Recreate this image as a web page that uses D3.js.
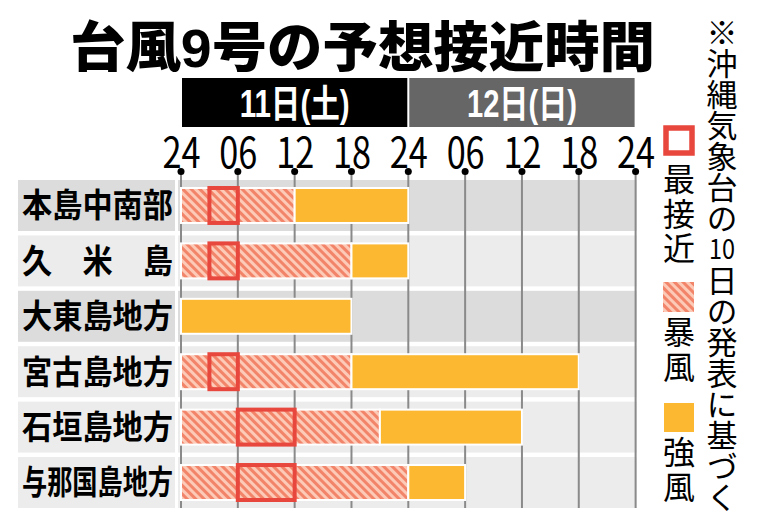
<!DOCTYPE html>
<html lang="ja">
<head>
<meta charset="utf-8">
<script src="https://cdn.jsdelivr.net/npm/d3@7"></script>
<style>
  body { margin: 0; background: #fff; }
  svg { display: block; }
  text { font-family: "Noto Sans CJK JP", "Noto Sans", sans-serif; }
  .latin { font-family: "Liberation Sans", "Noto Sans CJK JP", sans-serif; }
  .vert { writing-mode: vertical-rl; }
</style>
</head>
<body>
<svg id="chart" width="764" height="527"></svg>
<script>
// data (hours counted from 11日 0時)
var title = "台風9号の予想接近時間";
var days = ["11日(土)", "12日(日)"];
var hourTicks = [0, 6, 12, 18, 24, 30, 36, 42, 48];
var tickLabels = ["24", "06", "12", "18", "24", "06", "12", "18", "24"];
var regions = ["本島中南部", "久　米　島", "大東島地方", "宮古島地方", "石垣島地方", "与那国島地方"];
var stormWind = [[0, 12], [0, 18], null, [0, 18], [0, 21], [0, 24]];
var strongWind = [[12, 24], [18, 24], [0, 18], [18, 42], [21, 36], [24, 30]];
var closest = [[3, 6], [3, 6], null, [3, 6], [6, 12], [6, 12]];
var legendLabels = ["最接近", "暴風", "強風"];
var note = "※沖縄気象台の10日の発表に基づく";

// styles
var dayFill = ["#000000", "#666666"];
var rowFill = ["#dcdcdc", "#ececec", "#dcdcdc", "#ececec", "#ececec", "#ececec"];
var strongColor = "#fbb830"
  , closestColor = "#e8473d"
  , gridColor = "#8a8a8a";

var svg = d3.select("#chart");

var x = d3.scaleLinear().domain([0, 48]).range([181, 635.6]);
var y = d3.scaleBand().domain(regions).range([180, 508]).paddingInner(0.08);

// hatch for 暴風
var hw = 6;
var pat = svg.append("defs").append("pattern")
  .attr("id", "storm")
  .attr("patternUnits", "userSpaceOnUse")
  .attr("width", hw)
  .attr("height", hw)
  .attr("patternTransform", "rotate(-45)");
pat.append("rect").attr("width", hw).attr("height", hw).attr("fill", "#fccab7");
pat.append("rect").attr("width", hw / 2).attr("height", hw).attr("fill", "#f2846a");

// title
svg.append("text")
  .attr("class", "latin")
  .attr("x", 70)
  .attr("y", 67)
  .attr("font-size", 54)
  .attr("font-weight", 900)
  .attr("textLength", 585)
  .attr("lengthAdjust", "spacingAndGlyphs")
  .text(title);

// day headers
var dayG = svg.append("g").selectAll("g").data(days).join("g");
dayG.append("rect")
  .attr("x", function (d, i) { return x(i * 24) + 1; })
  .attr("y", 78)
  .attr("width", x(24) - x(0) - 2)
  .attr("height", 49)
  .attr("fill", function (d, i) { return dayFill[i]; });
dayG.append("text")
  .attr("class", "latin")
  .attr("x", function (d, i) { return (x(i * 24) + x(i * 24 + 24)) / 2 - 55; })
  .attr("y", 117)
  .attr("font-size", 38)
  .attr("font-weight", 700)
  .attr("fill", "#fff")
  .attr("textLength", 110)
  .attr("lengthAdjust", "spacingAndGlyphs")
  .text(function (d) { return d; });

// hour axis
var axis = d3.axisTop(x)
  .tickValues(hourTicks)
  .tickFormat(function (d, i) { return tickLabels[i]; })
  .tickSize(0)
  .tickPadding(0);
var ag = svg.append("g").attr("transform", "translate(0,168)").call(axis);
ag.select(".domain").remove();
ag.selectAll("text")
  .attr("font-size", 42)
  .attr("font-family", "Liberation Sans")
  .attr("fill", "#000")
  .attr("textLength", 38)
  .attr("lengthAdjust", "spacingAndGlyphs");

// row backgrounds
var rows = svg.append("g").selectAll("g").data(regions).join("g");
rows.append("rect")
  .attr("x", 18)
  .attr("y", function (d) { return y(d); })
  .attr("width", 157)
  .attr("height", y.bandwidth())
  .attr("fill", function (d, i) { return rowFill[i]; });
rows.append("rect")
  .attr("x", 178)
  .attr("y", function (d) { return y(d); })
  .attr("width", x(48) - 178 + 1)
  .attr("height", y.bandwidth())
  .attr("fill", function (d, i) { return rowFill[i]; });

// grid lines and dots
svg.append("g").selectAll("line").data(hourTicks).join("line")
  .attr("x1", x).attr("x2", x)
  .attr("y1", 172).attr("y2", 508)
  .attr("stroke", gridColor)
  .attr("stroke-width", 2);
svg.append("g").selectAll("circle").data(hourTicks).join("circle")
  .attr("cx", x)
  .attr("cy", 171.5)
  .attr("r", 3.5)
  .attr("fill", "#000");

// bars
var barPad = 8
  , barH = y.bandwidth() - 2 * barPad;

function span(sel, arr) {
  return sel
    .attr("x", function (d, i) { return x(arr[i][0]); })
    .attr("y", function (d) { return y(d) + barPad; })
    .attr("width", function (d, i) { return x(arr[i][1]) - x(arr[i][0]); })
    .attr("height", barH);
}

span(svg.append("g").selectAll("rect")
  .data(regions.filter(function (d, i) { return stormWind[i]; })).join("rect"),
  stormWind.filter(Boolean))
  .attr("fill", "url(#storm)")
  .attr("stroke", "#fff")
  .attr("stroke-width", 2);

span(svg.append("g").selectAll("rect")
  .data(regions.filter(function (d, i) { return strongWind[i]; })).join("rect"),
  strongWind.filter(Boolean))
  .attr("fill", strongColor)
  .attr("stroke", "#fff")
  .attr("stroke-width", 2);

span(svg.append("g").selectAll("rect")
  .data(regions.filter(function (d, i) { return closest[i]; })).join("rect"),
  closest.filter(Boolean))
  .attr("fill", "none")
  .attr("stroke", closestColor)
  .attr("stroke-width", 4);

// row labels
rows.append("text")
  .attr("x", 22)
  .attr("y", function (d) { return y(d) + y.bandwidth() / 2; })
  .attr("dy", "0.36em")
  .attr("font-size", 33)
  .attr("font-weight", 700)
  .attr("textLength", 151)
  .attr("lengthAdjust", "spacingAndGlyphs")
  .text(function (d) { return d; });

// legend
var leg = svg.append("g");
leg.append("rect")
  .attr("x", 666).attr("y", 128).attr("width", 26).attr("height", 25)
  .attr("fill", "#fff").attr("stroke", closestColor).attr("stroke-width", 5.5);
leg.append("rect")
  .attr("x", 663).attr("y", 282).attr("width", 31).attr("height", 30)
  .attr("fill", "url(#storm)");
leg.append("rect")
  .attr("x", 664).attr("y", 403).attr("width", 30).attr("height", 29)
  .attr("fill", strongColor);

// vertical labels: one upright character per text, top of each cell given
var legendTop = [163, 316, 436];
legendLabels.forEach(function (label, k) {
  leg.append("g").selectAll("text").data(label.split("")).join("text")
    .attr("class", "vert")
    .attr("x", 679)
    .attr("y", function (c, j) { return legendTop[k] + j * 34.5; })
    .attr("font-size", 32)
    .text(function (c) { return c; });
});

// vertical note; "10" stays upright side by side in one cell
var cell = 31, noteTop = 17;
svg.append("g").selectAll("text").data(note.match(/\d+|./g)).join("text")
  .each(function (c, j) {
    var t = d3.select(this).attr("x", 722);
    if (/\d/.test(c)) {
      t.attr("y", noteTop + j * cell + cell / 2 + 9)
        .attr("font-family", "Liberation Sans")
        .attr("font-size", 27)
        .attr("text-anchor", "middle")
        .attr("textLength", 26)
        .attr("lengthAdjust", "spacingAndGlyphs");
    } else {
      t.attr("class", "vert")
        .attr("y", noteTop + j * cell)
        .attr("font-size", 31);
    }
  })
  .text(function (c) { return c; });
</script>
</body>
</html>
